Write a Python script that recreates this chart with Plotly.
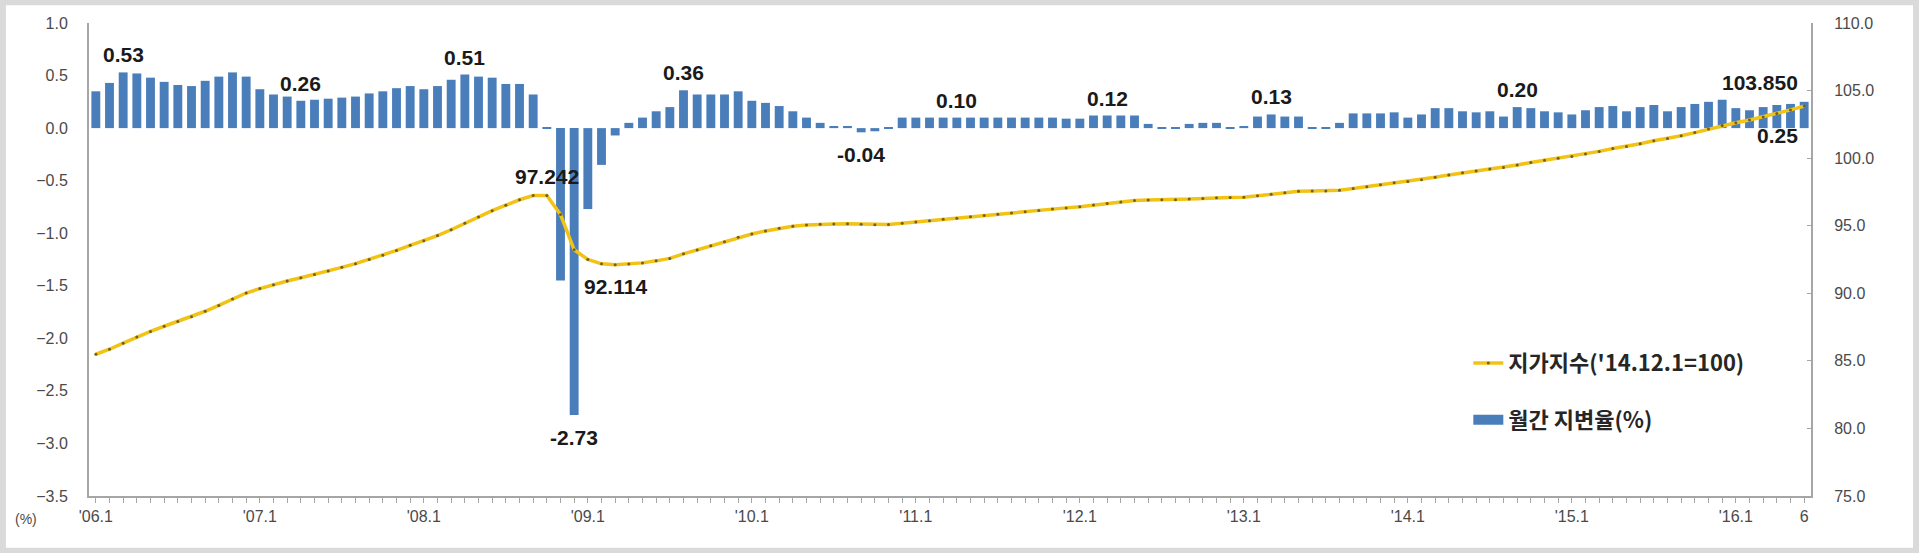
import plotly.graph_objects as go

# ---------------- data ----------------
years = list(range(2006, 2017))
months = [f"{y}.{m:02d}" for y in years for m in range(1, 13)][:126]

rate_2006 = [0.35, 0.43, 0.53, 0.52, 0.48, 0.44, 0.41, 0.40, 0.45, 0.49, 0.53, 0.49]
rate_2007 = [0.37, 0.32, 0.30, 0.26, 0.27, 0.28, 0.29, 0.30, 0.33, 0.35, 0.38, 0.40]
rate_2008 = [0.37, 0.40, 0.46, 0.51, 0.49, 0.48, 0.42, 0.42, 0.32, 0.01, -1.45, -2.73]
rate_2009 = [-0.77, -0.35, -0.07, 0.05, 0.10, 0.16, 0.20, 0.36, 0.32, 0.32, 0.32, 0.35]
rate_2010 = [0.26, 0.24, 0.21, 0.16, 0.10, 0.05, 0.02, 0.02, -0.04, -0.03, 0.01, 0.10]
rate_2011 = [0.10, 0.10, 0.10, 0.10, 0.10, 0.10, 0.10, 0.10, 0.10, 0.10, 0.10, 0.09]
rate_2012 = [0.09, 0.12, 0.12, 0.12, 0.12, 0.04, 0.01, 0.01, 0.04, 0.05, 0.05, 0.01]
rate_2013 = [0.02, 0.11, 0.13, 0.11, 0.11, 0.01, 0.01, 0.05, 0.14, 0.14, 0.14, 0.15]
rate_2014 = [0.10, 0.13, 0.19, 0.19, 0.16, 0.15, 0.16, 0.11, 0.20, 0.19, 0.16, 0.15]
rate_2015 = [0.13, 0.17, 0.20, 0.21, 0.16, 0.20, 0.22, 0.16, 0.20, 0.23, 0.25, 0.27]
rate_2016 = [0.19, 0.17, 0.20, 0.22, 0.23, 0.25]

idx_2006 = [85.49, 85.86, 86.31, 86.76, 87.18, 87.56, 87.92, 88.27, 88.67, 89.10, 89.58, 90.02]
idx_2007 = [90.35, 90.64, 90.91, 91.15, 91.39, 91.65, 91.92, 92.19, 92.50, 92.82, 93.17, 93.55]
idx_2008 = [93.89, 94.27, 94.70, 95.19, 95.65, 96.11, 96.52, 96.92, 97.23, 97.242, 95.83, 93.22]
idx_2009 = [92.50, 92.18, 92.114, 92.16, 92.25, 92.40, 92.58, 92.92, 93.21, 93.51, 93.81, 94.14]
idx_2010 = [94.39, 94.61, 94.81, 94.96, 95.06, 95.11, 95.13, 95.14, 95.11, 95.08, 95.09, 95.18]
idx_2011 = [95.28, 95.37, 95.47, 95.56, 95.66, 95.75, 95.85, 95.94, 96.04, 96.13, 96.23, 96.32]
idx_2012 = [96.41, 96.53, 96.64, 96.76, 96.87, 96.91, 96.92, 96.93, 96.97, 97.02, 97.07, 97.08]
idx_2013 = [97.10, 97.21, 97.33, 97.44, 97.55, 97.56, 97.57, 97.62, 97.75, 97.89, 98.03, 98.17]
idx_2014 = [98.27, 98.40, 98.58, 98.76, 98.91, 99.05, 99.20, 99.30, 99.49, 99.68, 99.84, 100.00]
idx_2015 = [100.13, 100.30, 100.50, 100.71, 100.87, 101.07, 101.29, 101.45, 101.66, 101.89, 102.15, 102.42]
idx_2016 = [102.62, 102.82, 103.05, 103.30, 103.57, 103.85]

rate = (rate_2006 + rate_2007 + rate_2008 + rate_2009 + rate_2010 + rate_2011
        + rate_2012 + rate_2013 + rate_2014 + rate_2015 + rate_2016)
index_vals = (idx_2006 + idx_2007 + idx_2008 + idx_2009 + idx_2010 + idx_2011
              + idx_2012 + idx_2013 + idx_2014 + idx_2015 + idx_2016)

year_labels = ["'06.1", "'07.1", "'08.1", "'09.1", "'10.1", "'11.1",
               "'12.1", "'13.1", "'14.1", "'15.1", "'16.1"]
last_label = "6"

# labelled points: (month position, text)
rate_label_pos = [2, 15, 27, 35, 43, 56, 63, 74, 86, 104, 125]
rate_label_txt = ["0.53", "0.26", "0.51", "-2.73", "0.36", "-0.04", "0.10", "0.12", "0.13", "0.20", "0.25"]
idx_label_pos = [33, 38, 125]
idx_label_txt = ["97.242", "92.114", "103.850"]

name_index = "지가지수('14.12.1=100)"
name_rate = "월간 지변율(%)"

# ---------------- figure ----------------
ticktext = []
for i, m in enumerate(months):
    if m.endswith(".01"):
        ticktext.append(year_labels[i // 12])
    elif i == len(months) - 1:
        ticktext.append(last_label)
    else:
        ticktext.append("")

BAR = "#4A7EBB"
GOLD = "#F2C314"
AXIS = "#A6A6A6"
TICK_FONT = dict(family="Liberation Sans, Arial, sans-serif", size=16, color="#4a4a4a")
LBL_FONT = dict(family="Liberation Sans, Arial, sans-serif", size=21, color="#1a1a1a")

fig = go.Figure()
fig.add_trace(go.Bar(
    x=months, y=rate, name=name_rate, showlegend=False,
    marker=dict(color=BAR, line=dict(width=0)),
    hoverinfo="x+y",
))
# legend key for the bars (wide block, as in the original legend)
fig.add_trace(go.Scatter(
    x=[None], y=[None], name=name_rate, legend="legend2", mode="lines",
    line=dict(color=BAR, width=11), hoverinfo="skip",
))
fig.add_trace(go.Scatter(
    x=months, y=index_vals, name=name_index, yaxis="y2", legend="legend",
    mode="lines+markers",
    line=dict(color=GOLD, width=3.5),
    marker=dict(size=3, color="#6E6127", symbol="circle"),
))

annotations = []
for p, t in zip(rate_label_pos, rate_label_txt):
    v = rate[p]
    a = dict(x=p, y=v, xref="x", yref="y", text=f"<b>{t}</b>",
             showarrow=False, font=LBL_FONT)
    if p == len(months) - 1:
        a.update(xanchor="right", yanchor="middle", yshift=-34, xshift=-4)
    elif v >= 0:
        a.update(xanchor="center", yanchor="bottom", yshift=4)
    else:
        a.update(xanchor="center", yanchor="top", yshift=-9)
    annotations.append(a)

for p, t in zip(idx_label_pos, idx_label_txt):
    v = index_vals[p]
    a = dict(x=p, y=v, xref="x", yref="y2", text=f"<b>{t}</b>",
             showarrow=False, font=LBL_FONT)
    if p == len(months) - 1:
        a.update(xanchor="right", yanchor="middle", yshift=24, xshift=-4)
    elif p == 38:
        a.update(xanchor="center", yanchor="top", yshift=-8, xshift=0)
    else:
        a.update(xanchor="center", yanchor="bottom", yshift=5)
    annotations.append(a)

annotations.append(dict(x=-0.044, y=-0.069, xref="paper", yref="paper",
                        text="(%)", showarrow=False,
                        font=dict(family="Liberation Sans, Arial, sans-serif", size=14, color="#4a4a4a")))

legend_font = dict(family="Noto Sans CJK KR, sans-serif", size=22, color="#262626", weight="bold")

fig.update_layout(
    width=1920, height=553,
    margin=dict(l=89, r=109, t=23, b=57),
    paper_bgcolor="white", plot_bgcolor="white",
    bargap=0.35,
    showlegend=True,
    legend=dict(x=0.801, y=0.281, xanchor="left", yanchor="middle",
                font=legend_font, bgcolor="rgba(0,0,0,0)", itemwidth=30),
    legend2=dict(x=0.801, y=0.161, xanchor="left", yanchor="middle",
                 font=legend_font, bgcolor="rgba(0,0,0,0)", itemwidth=30),
    xaxis=dict(type="category", tickmode="array", tickvals=months, ticktext=ticktext,
               ticks="outside", ticklen=5, tickcolor=AXIS, tickwidth=1,
               showline=True, linecolor=AXIS, linewidth=2, showgrid=False,
               tickfont=TICK_FONT, tickangle=0, range=[-0.5, len(months) - 0.5]),
    yaxis=dict(range=[-3.5, 1.0], dtick=0.5, tick0=0, tickformat=".1f",
               showline=True, linecolor=AXIS, linewidth=2, showgrid=False,
               zeroline=False, ticks="", tickfont=TICK_FONT, ticklabelstandoff=16),
    yaxis2=dict(overlaying="y", side="right", range=[75, 110], dtick=5, tick0=75,
                tickformat=".1f", showline=True, linecolor=AXIS, linewidth=2,
                showgrid=False, zeroline=False, ticks="inside", ticklen=4,
                tickcolor=AXIS, tickfont=TICK_FONT, ticklabelstandoff=18),
    annotations=annotations,
    shapes=[dict(type="rect", xref="paper", yref="paper",
                 x0=-0.0500, x1=1.0610, y0=-0.1160, y1=1.0440,
                 line=dict(color="#DADADA", width=6), fillcolor="rgba(0,0,0,0)",
                 layer="above")],
)

fig.write_html("out.html", config={"displayModeBar": False},
               post_script="document.body.style.margin='0';")
